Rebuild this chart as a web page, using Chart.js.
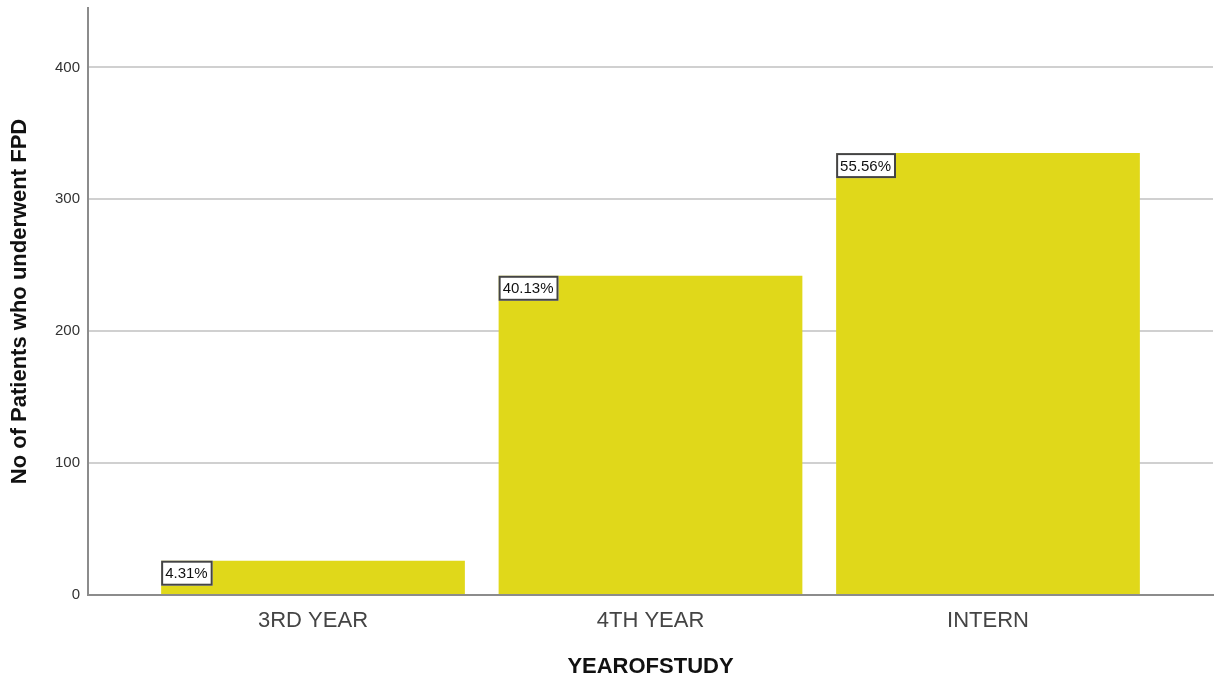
<!DOCTYPE html>
<html>
<head>
  <meta charset="utf-8">
  <title>YEAROFSTUDY</title>
  <script src="https://cdn.jsdelivr.net/npm/chart.js@4.4.0/dist/chart.umd.min.js"></script>
  <style>
    body { margin: 0; background: #ffffff; }
    #wrap { width: 1216px; height: 678px; }
  </style>
</head>
<body>
<div id="wrap"><canvas id="myChart" width="1216" height="678"></canvas></div>
<script>
  // values
  const categories = ["3RD YEAR", "4TH YEAR", "INTERN"];
  const patients = [26, 242, 335];
  const pctLabels = ["4.31%", "40.13%", "55.56%"];
  const yTicks = [0, 100, 200, 300, 400];

  const barColor = "rgb(224, 216, 26)";

  // little boxed percentage in the top left corner of every bar
  const pctBoxes = {
    id: "pctBoxes",
    afterDatasetsDraw(chart) {
      const ctx = chart.ctx;
      const meta = chart.getDatasetMeta(0);
      ctx.save();
      ctx.font = "15px 'Liberation Sans', Arial, sans-serif";
      ctx.textBaseline = "middle";
      meta.data.forEach((bar, i) => {
        const txt = pctLabels[i];
        const w = ctx.measureText(txt).width + 9;
        const h = 25;
        const x = bar.x - bar.width / 2;
        const y = bar.y;
        ctx.fillStyle = "#ffffff";
        ctx.fillRect(x, y, w, h);
        ctx.strokeStyle = "#444444";
        ctx.lineWidth = 2;
        ctx.strokeRect(x + 1, y + 1, w - 2, h - 2);
        ctx.fillStyle = "#111111";
        ctx.fillText(txt, x + 4, y + h / 2 + 1);
      });
      ctx.restore();
    }
  };

  const ctx = document.getElementById("myChart").getContext("2d");
  const myChart = new Chart(ctx, {
    type: "bar",
    data: {
      datasets: [{
        data: patients.map((v, i) => ({ x: i, y: v })),
        backgroundColor: barColor,
        borderWidth: 0,
        barPercentage: 0.9,
        categoryPercentage: 1.0
      }]
    },
    options: {
      responsive: false,
      animation: false,
      layout: { padding: { top: 8, right: 3, left: 0, bottom: 0 } },
      plugins: {
        legend: { display: false },
        tooltip: { enabled: false }
      },
      scales: {
        x: {
          type: "linear",
          offset: false,
          min: -0.6667,
          max: 2.6667,
          grid: { display: false, drawTicks: false },
          border: { display: true, color: "#8c8c8c", width: 2 },
          afterBuildTicks: (axis) => { axis.ticks = categories.map((c, i) => ({ value: i })); },
          afterFit: (axis) => { axis.height = 83; axis.paddingLeft = 0; axis.paddingRight = 0; },
          ticks: {
            padding: 13,
            color: "#444444",
            font: { family: "'Liberation Sans', Arial, sans-serif", size: 22 },
            callback: (v) => categories[v]
          },
          title: {
            display: true,
            text: "YEAROFSTUDY",
            color: "#111111",
            font: { family: "'Liberation Sans', Arial, sans-serif", size: 22, weight: "bold", lineHeight: 1 },
            padding: { top: 0, bottom: 0 }
          }
        },
        y: {
          min: 0,
          max: 445,
          grid: { color: "#d0d0d0", lineWidth: 2, drawTicks: false },
          border: { display: true, color: "#8c8c8c", width: 2 },
          afterBuildTicks: (axis) => { axis.ticks = yTicks.map(v => ({ value: v })); },
          afterFit: (axis) => { axis.width = 88; axis.paddingTop = 0; axis.paddingBottom = 0; },
          ticks: {
            padding: 8,
            color: "#333333",
            font: { family: "'Liberation Sans', Arial, sans-serif", size: 15 }
          },
          title: {
            display: true,
            text: "No of Patients who underwent FPD",
            color: "#111111",
            font: { family: "'Liberation Sans', Arial, sans-serif", size: 22, weight: "bold", lineHeight: 1.2 },
            padding: { top: 7, bottom: 0 }
          }
        }
      }
    },
    plugins: [pctBoxes]
  });
</script>
</body>
</html>
